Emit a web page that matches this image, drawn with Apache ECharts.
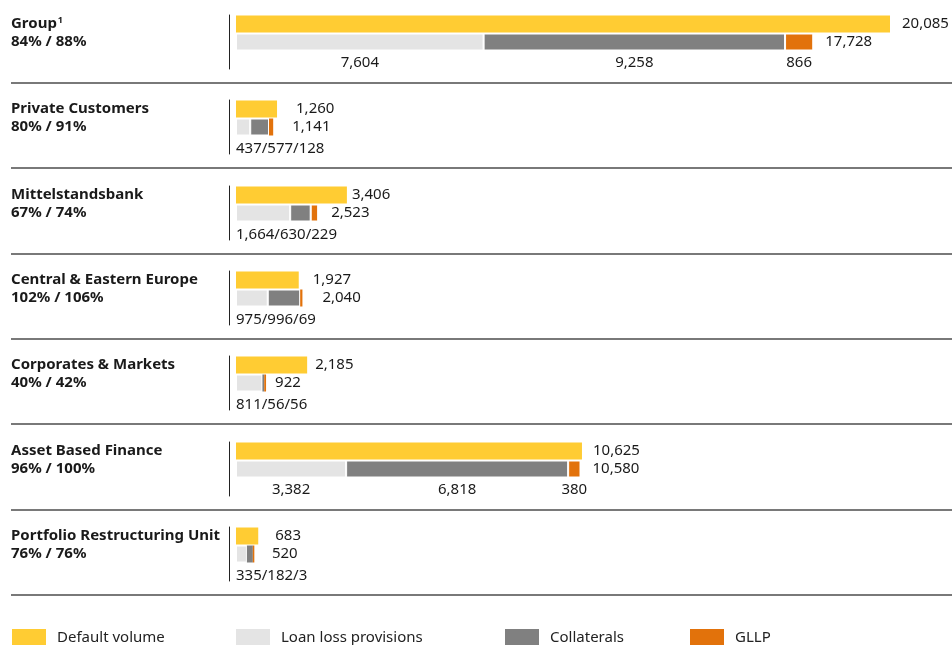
<!DOCTYPE html>
<html>
<head>
<meta charset="utf-8">
<title>Default volume and coverage by segment</title>
<script src="https://cdn.jsdelivr.net/npm/echarts@6/dist/echarts.min.js"></script>
<style>
html,body{margin:0;padding:0;background:#fff;}
#chart{width:952px;height:645px;}
</style>
</head>
<body>
<div id="chart"></div>
<script>
// data
var segments = ['Group', 'Private Customers', 'Mittelstandsbank', 'Central & Eastern Europe', 'Corporates & Markets', 'Asset Based Finance', 'Portfolio Restructuring Unit'];
var footnotes = ['1', '', '', '', '', '', ''];
var coverage = ['84% / 88%', '80% / 91%', '67% / 74%', '102% / 106%', '40% / 42%', '96% / 100%', '76% / 76%'];
var defaultVolume = [20085, 1260, 3406, 1927, 2185, 10625, 683];
var loanLossProvisions = [7604, 437, 1664, 975, 811, 3382, 335];
var collaterals = [9258, 577, 630, 996, 56, 6818, 182];
var gllp = [866, 128, 229, 69, 56, 380, 3];
var coverageTotal = [17728, 1141, 2523, 2040, 922, 10580, 520];

// label gaps next to the bars (style only)
var dvGap = [12, 19, 5, 14, 8, 11, 17];
var totGap = [12, 19, 13, 20, 9, 12, 19];

var colors = {dv: '#FFCC33', llp: '#E4E4E4', coll: '#808080', gllp: '#E2720B'};
var names = {dv: 'Default volume', llp: 'Loan loss provisions', coll: 'Collaterals', gllp: 'GLLP'};
var txt = '#1a1a1a';
var font = 'Noto Sans';
var xMax = 21989;

function fmt(v) { return v.toLocaleString('en-US'); }
function numLabel(extra) {
    var o = {show: true, fontFamily: font, fontSize: 15, color: txt};
    for (var k in extra) o[k] = extra[k];
    return o;
}

var grids = [], xAxes = [], yAxes = [], series = [], graphics = [];

for (var i = 0; i < segments.length; i++) {
    var rowTop = Math.round(15 + i * 85.33);
    var detailed = coverageTotal[i] > 5000; // big bars get a number under each part
    grids.push({left: 236, right: 0, top: rowTop, height: 54});
    xAxes.push({gridIndex: i, type: 'value', min: 0, max: xMax, show: false});
    yAxes.push({
        gridIndex: i,
        type: 'category',
        inverse: true,
        data: [segments[i] + (footnotes[i] ? '|' + footnotes[i] : ''), coverage[i], ' '],
        offset: 7,
        axisLine: {show: true, onZero: false, lineStyle: {color: '#222', width: 1}},
        axisTick: {show: false},
        splitLine: {show: false},
        axisLabel: {
            interval: 0,
            align: 'left',
            margin: 218,
            color: txt,
            fontFamily: font,
            fontWeight: 'bold',
            fontSize: 15,
            formatter: function (val) {
                var p = val.split('|');
                return p.length > 1 ? '{b|' + p[0] + '}{sup|' + p[1] + '}' : '{b|' + val + '}';
            },
            rich: {
                b: {fontFamily: font, fontWeight: 'bold', fontSize: 15, color: txt},
                sup: {fontFamily: font, fontSize: 9, color: txt, verticalAlign: 'top', padding: [0, 0, 7, 1]}
            }
        }
    });

    series.push({
        type: 'bar', name: names.dv, xAxisIndex: i, yAxisIndex: i, stack: 'seg' + i, barWidth: 17,
        itemStyle: {color: colors.dv},
        label: numLabel({position: 'right', distance: dvGap[i], formatter: fmt(defaultVolume[i])}),
        data: [defaultVolume[i], '-', '-']
    });

    var parts = [['llp', loanLossProvisions], ['coll', collaterals], ['gllp', gllp]];
    for (var k = 0; k < parts.length; k++) {
        var key = parts[k][0];
        var v = parts[k][1][i];
        var px = v * 716 / xMax;
        var label = {show: false};
        if (detailed) {
            label = numLabel({position: 'bottom', distance: 5, formatter: fmt(v)});
        } else if (k === 0) {
            label = numLabel({position: [0, 23], align: 'left', verticalAlign: 'top',
                formatter: fmt(loanLossProvisions[i]) + '/' + fmt(collaterals[i]) + '/' + fmt(gllp[i])});
        }
        series.push({
            type: 'bar', name: names[key], xAxisIndex: i, yAxisIndex: i, stack: 'seg' + i, barWidth: 17,
            barMinHeight: k === 2 ? 1.5 : 0,
            itemStyle: {color: colors[key], borderColor: '#fff', borderWidth: px > 6 ? 1 : 0},
            label: label,
            data: ['-', v, '-']
        });
    }
    // total of the coverage bar, written right of its end
    series.push({
        type: 'bar', name: 'total', xAxisIndex: i, yAxisIndex: i, stack: 'seg' + i, barWidth: 17,
        itemStyle: {color: 'rgba(0,0,0,0)'},
        silent: true,
        label: numLabel({position: 'right', distance: totGap[i], formatter: fmt(coverageTotal[i])}),
        data: ['-', 0, '-']
    });

    graphics.push({
        type: 'line',
        shape: {x1: 11, y1: rowTop + 68, x2: 952, y2: rowTop + 68},
        style: {stroke: '#4d4d4d', lineWidth: 1.5}
    });
}

var legendLeft = [12, 236, 505, 690];
var legendKeys = ['dv', 'llp', 'coll', 'gllp'];
var legends = legendKeys.map(function (key, j) {
    return {
        left: legendLeft[j],
        top: 629,
        padding: 0,
        icon: 'rect',
        itemWidth: 34,
        itemHeight: 17,
        selectedMode: false,
        itemStyle: {color: colors[key], borderWidth: 0},
        textStyle: {fontFamily: font, fontSize: 15, color: '#222', padding: [0, 0, 0, 6]},
        data: [names[key]]
    };
});

var chart = echarts.init(document.getElementById('chart'));
chart.setOption({
    backgroundColor: '#fff',
    animation: false,
    legend: legends,
    grid: grids,
    xAxis: xAxes,
    yAxis: yAxes,
    series: series,
    graphic: graphics
});
</script>
</body>
</html>
